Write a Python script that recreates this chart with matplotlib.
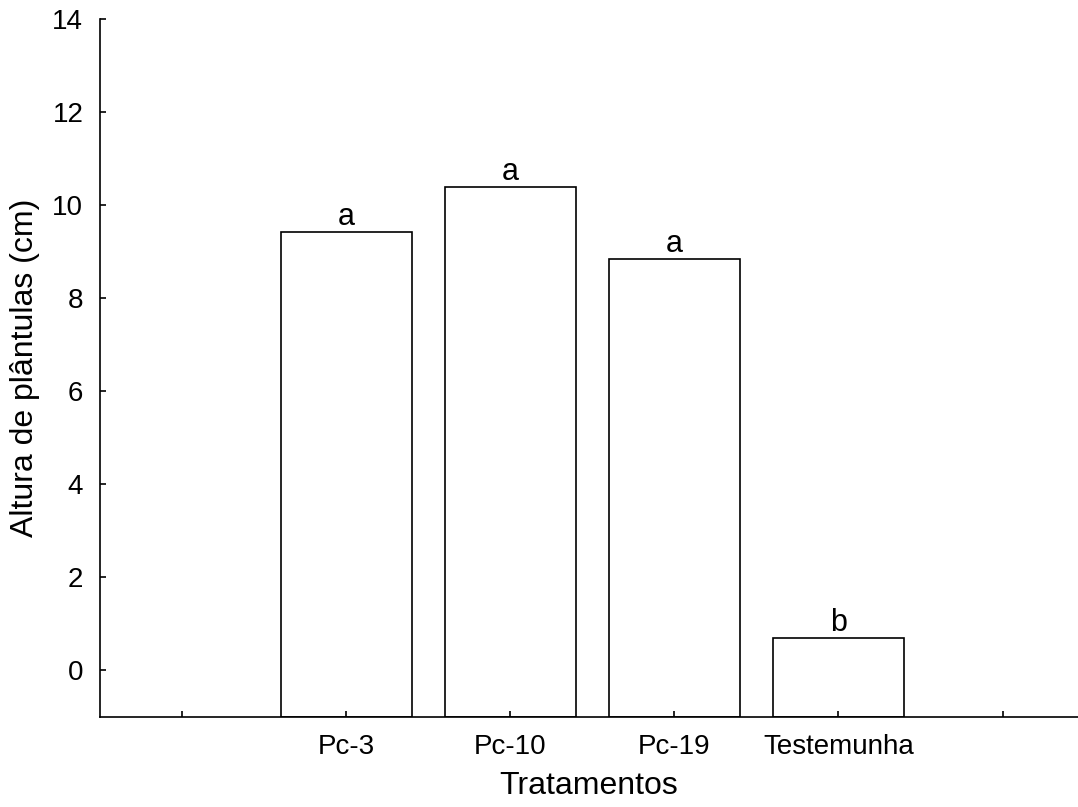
import matplotlib
matplotlib.use("Agg")
import matplotlib.pyplot as plt

categories = ["Pc-3", "Pc-10", "Pc-19", "Testemunha"]
values = [9.43, 10.39, 8.85, 0.69]
letters = ["a", "a", "a", "b"]
positions = [1, 2, 3, 4]

plt.rcParams['font.family'] = ['Liberation Sans', 'DejaVu Sans']

fig = plt.figure(figsize=(10.78, 8.07), dpi=100)
ax = fig.add_axes([100/1078, (807-717)/807, (1078-100)/1078, (717-19)/807])

base = -1
ax.bar(positions, [v - base for v in values], bottom=base, width=0.8,
       facecolor="white", edgecolor="black", linewidth=1.2)
for p, v, l in zip(positions, values, letters):
    ax.text(p, v + 0.0, l, ha="center", va="bottom", fontsize=22)

ax.set_xlim(-0.5, 5.46)
ax.set_ylim(-1, 14)
ax.set_xticks([0, 1, 2, 3, 4, 5])
ax.set_xticklabels([""] + categories + [""])
ax.set_yticks(range(0, 15, 2))
ax.tick_params(direction="in", length=4, width=1.2, labelsize=20)
ax.tick_params(axis="x", pad=12)
ax.tick_params(axis="y", pad=12)
for s in ["top", "right"]:
    ax.spines[s].set_visible(False)
for s in ["left", "bottom"]:
    ax.spines[s].set_linewidth(1.2)

ax.set_xlabel("Tratamentos", fontsize=23, labelpad=8)
ax.set_ylabel("Altura de plântulas (cm)", fontsize=23, labelpad=9)

fig.savefig("out.png", dpi=100)
